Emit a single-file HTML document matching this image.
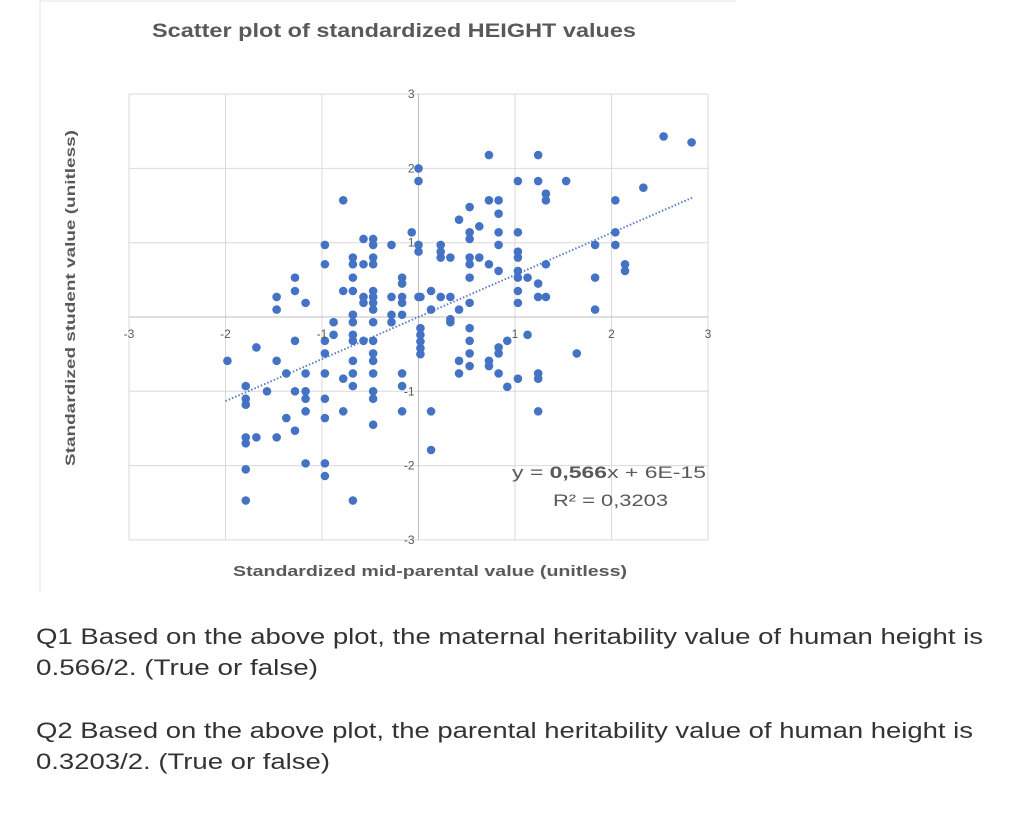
<!DOCTYPE html>
<html><head><meta charset="utf-8"><style>
html,body{margin:0;padding:0;background:#fff;width:1024px;height:813px;overflow:hidden}
svg{display:block}
</style></head><body>
<svg id="chart" width="1024" height="813" xmlns="http://www.w3.org/2000/svg">
<line x1="40" y1="1" x2="736" y2="1" stroke="#e3e3e3"/>
<line x1="40" y1="1" x2="40" y2="592" stroke="#e3e3e3"/>
<text x="394" y="37" text-anchor="middle" font-family="Liberation Sans, sans-serif" font-weight="bold" font-size="19" fill="#595959" textLength="484" lengthAdjust="spacingAndGlyphs">Scatter plot of standardized HEIGHT values</text>
<g id="grid"></g>
<g id="axes"></g>
<g id="trend"></g>
<g id="dots"></g>
<g id="ticks"></g>
<text transform="translate(75,298) rotate(-90)" text-anchor="middle" font-family="Liberation Sans, sans-serif" font-weight="bold" font-size="14" fill="#595959" textLength="336" lengthAdjust="spacingAndGlyphs">Standardized student value (unitless)</text>
<text x="430" y="576" text-anchor="middle" font-family="Liberation Sans, sans-serif" font-weight="bold" font-size="15" fill="#595959" textLength="394" lengthAdjust="spacingAndGlyphs">Standardized mid-parental value (unitless)</text>
<text x="512" y="478" font-family="Liberation Sans, sans-serif" font-size="17" fill="#595959" textLength="194" lengthAdjust="spacingAndGlyphs">y = <tspan font-weight="bold">0,566</tspan>x + 6E-15</text>
<text x="553" y="506" font-family="Liberation Sans, sans-serif" font-size="17" fill="#595959" textLength="115" lengthAdjust="spacingAndGlyphs">R² = 0,3203</text>
<g font-family="Liberation Sans, sans-serif" font-size="22" fill="#333">
<text x="36" y="644" textLength="947" lengthAdjust="spacingAndGlyphs">Q1 Based on the above plot, the maternal heritability value of human height is</text>
<text x="36" y="675" textLength="282" lengthAdjust="spacingAndGlyphs">0.566/2. (True or false)</text>
<text x="36" y="738" textLength="937" lengthAdjust="spacingAndGlyphs">Q2 Based on the above plot, the parental heritability value of human height is</text>
<text x="36" y="769" textLength="294" lengthAdjust="spacingAndGlyphs">0.3203/2. (True or false)</text>
</g>
</svg>
<script>
const xTicks = [-3,-2,-1,0,1,2,3];
const yTicks = [-3,-2,-1,0,1,2,3];
const slope = 0.566;
const intercept = 0;
const trendRange = [-2.0, 2.85];
const xVals = [-0.78,-0.07,-0.97,-0.57,-0.47,-0.47,-0.28,-0.97,-0.68,-0.68,-0.57,-0.47,-0.47,-1.28,-1.28,-1.47,-1.47,-1.17,-0.68,-0.78,-0.68,-0.57,-0.57,-0.47,-0.47,-0.47,-0.47,-0.28,-0.17,-0.17,-0.17,-0.17,0.0,-0.68,-0.28,-0.17,0.0,0.0,0.0,0.0,
0.73,1.24,1.03,1.24,1.53,1.32,1.32,0.73,0.83,0.53,0.83,0.42,0.63,0.53,0.53,0.83,0.83,1.03,0.23,0.23,0.23,0.33,0.53,0.53,0.63,0.73,0.83,1.03,1.03,1.03,1.03,1.13,0.53,1.24,1.03,1.24,1.32,1.32,1.83,1.83,1.83,2.04,2.04,2.04,2.14,2.14,2.33,2.54,2.83,0.02,0.13,0.23,0.33,0.13,0.42,0.53,1.03,0.33,
-1.98,-1.68,-1.47,-1.28,-1.37,-1.17,-0.88,-0.88,-0.97,-0.97,-0.97,-0.68,-0.68,-0.68,-0.57,-0.47,-0.47,-0.47,-0.47,-0.28,-0.68,-0.68,-0.68,-0.68,-0.78,-0.47,-0.47,-0.47,-0.47,-0.17,-0.17,-0.17,-1.79,-1.79,-1.79,-1.57,-1.28,-1.17,-1.17,-1.17,-0.97,-0.97,-1.37,-0.78,-1.28,-1.79,-1.79,-1.68,-1.47,-1.17,-0.97,-0.97,-1.79,-1.79,-0.68,
0.02,0.02,0.02,0.02,0.02,0.33,0.53,0.53,0.53,0.53,0.42,0.42,0.73,0.73,0.83,0.83,0.83,0.92,0.92,1.13,1.03,1.24,1.24,1.24,1.64,0.13,0.13];
const yVals = [1.57,1.14,0.97,1.05,1.05,0.97,0.97,0.71,0.80,0.71,0.71,0.80,0.71,0.53,0.35,0.27,0.10,0.19,0.53,0.35,0.35,0.27,0.19,0.35,0.27,0.19,0.10,0.27,0.53,0.45,0.27,0.19,0.27,0.03,0.03,0.03,2.0,1.83,0.97,0.88,
2.18,2.18,1.83,1.83,1.83,1.66,1.57,1.57,1.57,1.48,1.39,1.31,1.22,1.14,1.05,1.14,0.97,1.14,0.97,0.88,0.80,0.80,0.80,0.71,0.80,0.71,0.62,0.88,0.80,0.62,0.53,0.53,0.53,0.45,0.35,0.27,0.27,0.71,0.97,0.53,0.10,1.57,1.14,0.97,0.71,0.62,1.74,2.43,2.35,0.27,0.35,0.27,0.27,0.10,0.10,0.19,0.19,-0.03,
-0.59,-0.41,-0.59,-0.32,-0.76,-0.76,-0.07,-0.24,-0.32,-0.49,-0.76,0.03,-0.07,-0.24,-0.32,-0.07,-0.32,-0.49,-0.59,-0.07,-0.32,-0.59,-0.76,-0.93,-0.83,-0.76,-1.0,-1.10,-1.45,-0.76,-0.93,-1.27,-0.93,-1.10,-1.18,-1.0,-1.0,-1.0,-1.10,-1.27,-1.10,-1.36,-1.36,-1.27,-1.53,-1.62,-1.70,-1.62,-1.62,-1.97,-1.97,-2.14,-2.05,-2.47,-2.47,
-0.15,-0.24,-0.33,-0.42,-0.50,-0.07,-0.15,-0.32,-0.49,-0.66,-0.59,-0.76,-0.59,-0.66,-0.41,-0.49,-0.76,-0.32,-0.94,-0.24,-0.83,-0.76,-0.83,-1.27,-0.49,-1.27,-1.79];
const NS='http://www.w3.org/2000/svg';
const sx = v => 418.5 + 96.5*v;
const sy = v => 317 - 74.3*v;
function mk(tag, attrs, parent){const e=document.createElementNS(NS,tag);for(const k in attrs)e.setAttribute(k,attrs[k]);parent.appendChild(e);return e;}
const grid=document.getElementById('grid'),axes=document.getElementById('axes'),ticks=document.getElementById('ticks'),dots=document.getElementById('dots'),trend=document.getElementById('trend');
xTicks.forEach(t=>{
  if(t===0)return;
  const l=mk('line',{x1:sx(t),x2:sx(t),y1:sy(3),y2:sy(-3),stroke:'#d9d9d9','stroke-width':1},grid);
  
  
  const tx=mk('text',{x:sx(t),y:sy(0)+21,'text-anchor':'middle','font-family':'Liberation Sans, sans-serif','font-size':12,fill:'#595959'},ticks);
  tx.textContent=String(t);
  
  
});
yTicks.forEach(t=>{
  if(t===0)return;
  const l=mk('line',{x1:sx(-3),x2:sx(3),y1:sy(t),y2:sy(t),stroke:'#d9d9d9','stroke-width':1},grid);
  
  
  const tx=mk('text',{x:sx(0)-4,y:sy(t)+4,'text-anchor':'end','font-family':'Liberation Sans, sans-serif','font-size':12,fill:'#595959'},ticks);
  tx.textContent=String(t);
  
  
});
const xa=mk('line',{x1:sx(-3),x2:sx(3),y1:sy(0),y2:sy(0),stroke:'#bfbfbf','stroke-width':1},axes);


const ya=mk('line',{x1:sx(0),x2:sx(0),y1:sy(3),y2:sy(-3),stroke:'#bfbfbf','stroke-width':1},axes);


const tl=mk('line',{x1:sx(trendRange[0]),y1:sy(slope*trendRange[0]+intercept),x2:sx(trendRange[1]),y2:sy(slope*trendRange[1]+intercept),stroke:'#5b7fc4','stroke-width':2,'stroke-dasharray':'1.5 2'},trend);


xVals.forEach((x,i)=>{
  const c=mk('circle',{cx:sx(x),cy:sy(yVals[i]),r:4.3,fill:'#4472c4'},dots);
  
  
});
</script>
</body></html>
